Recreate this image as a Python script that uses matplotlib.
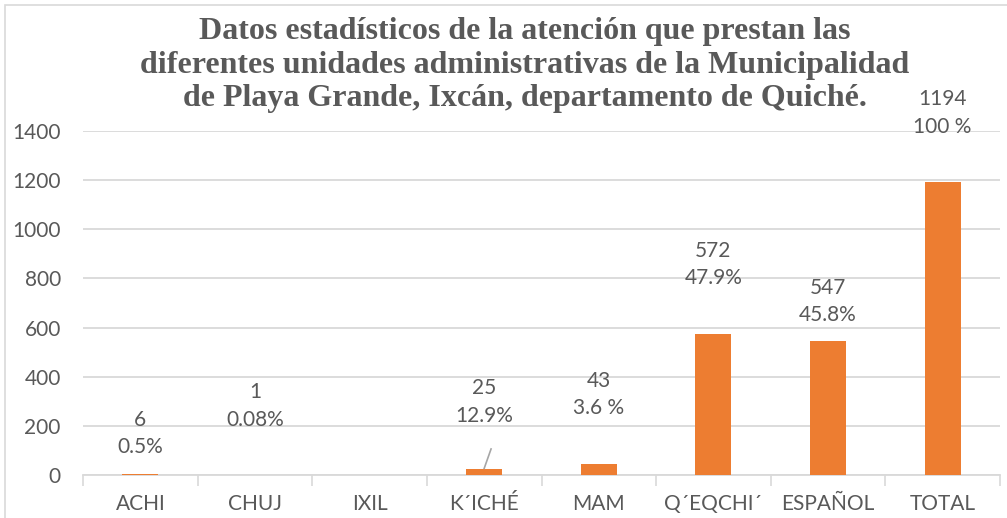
import matplotlib
matplotlib.use("Agg")
import matplotlib.pyplot as plt
from matplotlib.patches import Rectangle

categories = ["ACHI", "CHUJ", "IXIL", "K´ICHÉ", "MAM", "Q´EQCHI´", "ESPAÑOL", "TOTAL"]
values = [6, 1, 0, 25, 43, 572, 547, 1194]
labels = ["6\n0.5%", "1\n0.08%", "", "25\n12.9%", "43\n3.6 %", "572\n47.9%", "547\n45.8%", "1194\n100 %"]
# label centre heights (data units) as placed in the original chart
label_y = [169, 281, None, 297, 326, 857, 706, 1473]
yticks = [0, 200, 400, 600, 800, 1000, 1200, 1400]
title = ("Datos estadísticos de la atención que prestan las\n"
         "diferentes unidades administrativas de la Municipalidad\n"
         "de Playa Grande, Ixcán, departamento de Quiché.")

orange = "#ED7D31"
gray_txt = "#595959"
grid_c = "#D9D9D9"
font = ["Lato", "DejaVu Sans"]

fig = plt.figure(figsize=(10.07, 5.18), dpi=100)
ax = fig.add_axes([83 / 1007, 1 - 475 / 518, (1000 - 83) / 1007, (475 - 131) / 518])

x = list(range(len(categories)))
ax.bar(x, values, width=0.315, color=orange, zorder=3)
ax.set_xlim(-0.5, len(categories) - 0.5)
ax.set_ylim(0, 1400)
ax.set_yticks(yticks)
ax.set_yticklabels([str(v) for v in yticks], fontsize=15, color=gray_txt, family=font)
ax.set_xticks(x)
ax.set_xticklabels(categories, fontsize=15, color=gray_txt, family=font)
ax.tick_params(axis="y", length=0, pad=16)
ax.tick_params(axis="x", length=0, pad=14)
# minor ticks at category boundaries
ax.set_xticks([i - 0.5 for i in range(len(categories) + 1)], minor=True)
ax.tick_params(axis="x", which="minor", length=8, width=1.2, color=grid_c)
ax.grid(axis="y", color=grid_c, linewidth=1.3, zorder=0)
for s in ["top", "right", "left"]:
    ax.spines[s].set_visible(False)
ax.spines["bottom"].set_color(grid_c)
ax.spines["bottom"].set_linewidth(1.3)

for xi, lab, ly in zip(x, labels, label_y):
    if lab and ly is not None:
        ax.text(xi, ly, lab, ha="center", va="center", fontsize=15, color=gray_txt,
                family=font, linespacing=1.45, zorder=4, clip_on=False)

# leader line for K´ICHÉ label
ki = categories.index("K´ICHÉ")
ax.plot([ki + 0.06, ki], [106, values[ki] + 2], color="#A6A6A6", linewidth=1.2, zorder=4)

fig.text(525 / 1007, 1 - 65 / 518, title, ha="center", va="center",
         fontsize=23, fontweight="bold", color=gray_txt, family=["Liberation Serif"],
         linespacing=1.22)

fig.patches.append(Rectangle((5 / 1007, -0.01), 1.1, 1 - 5 / 518 + 0.01, transform=fig.transFigure,
                             fill=False, edgecolor=grid_c, linewidth=1.2))

fig.savefig("out.png", dpi=100)
